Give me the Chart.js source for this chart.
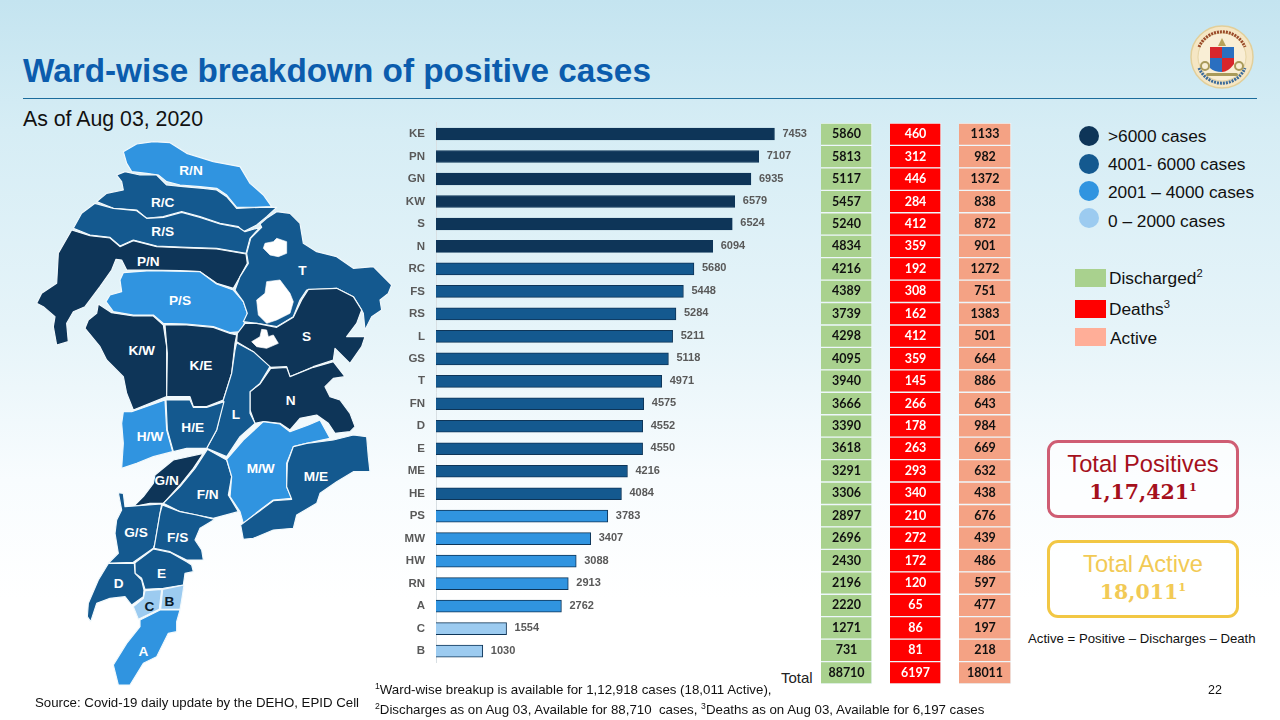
<!DOCTYPE html>
<html><head><meta charset="utf-8">
<script src="https://cdn.jsdelivr.net/npm/chart.js@4"></script>
<style>
html,body{margin:0;padding:0;width:1280px;height:720px;overflow:hidden;font-family:"Liberation Sans",Arial,sans-serif;color:#111}
body{background:linear-gradient(180deg,#c4e4f0 0,#d6edf5 130px,#e6f4f9 330px,#f8fcfe 480px,#fff 600px);position:relative}
.t{position:absolute;white-space:nowrap}
canvas{position:absolute}
svg{position:absolute;left:0;top:0}
sup{font-size:65%;line-height:0}
.box{position:absolute;box-sizing:border-box;border-radius:11px;border:3px solid;text-align:center;left:1047px;width:192px;height:78px;background:rgba(255,255,255,.6)}
.box .a{font-size:23.7px;line-height:26px;margin-top:8px}
.box .b{font:bold 20.5px "DejaVu Serif",serif;line-height:30px}
.box .b sup{font-size:55%}
.dot{position:absolute;width:20px;height:20px;border-radius:50%;left:1079px}
.sw{position:absolute;width:31px;height:18px;left:1075px}
.lg{font-size:17.3px;line-height:20px}
</style></head><body>
<div class="t" style="left:23px;top:52px;font-size:33.3px;font-weight:bold;color:#0b5cad;line-height:38px" id="title">Ward-wise breakdown of positive cases</div>
<div style="position:absolute;left:23px;top:98px;width:1234px;height:1px;background:#1b6c9c"></div>
<div class="t" style="left:23px;top:107px;font-size:21.3px;line-height:24px">As of Aug 03, 2020</div>

<svg width="1280" height="720" id="map"></svg>
<canvas id="bars" width="442" height="545" style="left:380px;top:120px;width:442px;height:545px"></canvas>
<canvas id="cells" width="202" height="561" style="left:815px;top:123px;width:202px;height:561px"></canvas>

<div class="dot" style="top:126px;background:#0e3558"></div><div class="t lg" style="left:1108px;top:126px">&gt;6000 cases</div>
<div class="dot" style="top:154px;background:#14598f"></div><div class="t lg" style="left:1108px;top:154px">4001- 6000 cases</div>
<div class="dot" style="top:181px;background:#3094e0"></div><div class="t lg" style="left:1108px;top:182px">2001 – 4000 cases</div>
<div class="dot" style="top:208px;background:#9ccbf0"></div><div class="t lg" style="left:1108px;top:211px">0 – 2000 cases</div>

<div class="sw" style="top:269px;background:#a9d18e"></div><div class="t lg" style="left:1109px;top:268px">Discharged<sup>2</sup></div>
<div class="sw" style="top:300px;background:#ff0000"></div><div class="t lg" style="left:1109px;top:299px">Deaths<sup>3</sup></div>
<div class="sw" style="top:328px;background:#ffae98"></div><div class="t lg" style="left:1110px;top:328px">Active</div>

<div class="box" style="top:440px;border-color:#cf5d73;color:#a5101c"><div class="a">Total Positives</div><div class="b">1,17,421<sup>1</sup></div></div>
<div class="box" style="top:540px;border-color:#f2c744;color:#f2ca55"><div class="a">Total Active</div><div class="b">18,011<sup>1</sup></div></div>
<div class="t" style="left:1028px;top:631px;font-size:13.2px;line-height:15px">Active = Positive – Discharges – Death</div>

<div class="t" style="left:781px;top:669px;font-size:15px;line-height:17px;color:#222">Total</div>
<div class="t" style="left:375px;top:682px;font-size:13.3px;line-height:15px"><sup>1</sup>Ward-wise breakup is available for 1,12,918 cases (18,011 Active),</div>
<div class="t" style="left:375px;top:702px;font-size:13.3px;line-height:15px"><sup>2</sup>Discharges as on Aug 03, Available for 88,710&nbsp; cases, <sup>3</sup>Deaths as on Aug 03, Available for 6,197 cases</div>
<div class="t" style="left:35px;top:695px;font-size:13.25px;line-height:15px">Source: Covid-19 daily update by the DEHO, EPID Cell</div>
<div class="t" style="left:1208px;top:683px;font-size:12.5px;line-height:14px">22</div>

<script>
const wards=["KE","PN","GN","KW","S","N","RC","FS","RS","L","GS","T","FN","D","E","ME","HE","PS","MW","HW","RN","A","C","B"];
const positives=[7453,7107,6935,6579,6524,6094,5680,5448,5284,5211,5118,4971,4575,4552,4550,4216,4084,3783,3407,3088,2913,2762,1554,1030];
const discharged=[5860,5813,5117,5457,5240,4834,4216,4389,3739,4298,4095,3940,3666,3390,3618,3291,3306,2897,2696,2430,2196,2220,1271,731,88710];
const deaths=[460,312,446,284,412,359,192,308,162,412,359,145,266,178,263,293,340,210,272,172,120,65,86,81,6197];
const active=[1133,982,1372,838,872,901,1272,751,1383,501,664,886,643,984,669,632,438,676,439,486,597,477,197,218,18011];
const tableRows=[...wards,"Total"];

function band(v){return v>6000?"#0e3558":v>4000?"#14598f":v>2000?"#3094e0":"#9ccbf0";}
const valueOf=w=>positives[wards.indexOf(w)];

const barLabels={id:"barLabels",afterDatasetsDraw(c){
  const g=c.ctx,m=c.getDatasetMeta(0);g.save();
  g.font='bold 11px "Liberation Sans"';g.fillStyle="#595959";g.textBaseline="middle";
  m.data.forEach((b,i)=>g.fillText(positives[i],b.x+8,b.y-0.5));g.restore();}};

new Chart(document.getElementById("bars"),{type:"bar",plugins:[barLabels],
 data:{labels:wards,datasets:[{data:positives,backgroundColor:positives.map(band),borderColor:"#0e3558",borderWidth:1,barThickness:12}]},
 options:{indexAxis:"y",responsive:false,animation:false,layout:{padding:{top:2.8,bottom:2.7}},
  plugins:{legend:{display:false},tooltip:{enabled:false}},
  scales:{
   x:{display:false,min:0,max:8500},
   y:{afterFit(s){s.width=56;s.paddingTop=0;s.paddingBottom=0;},border:{color:"#d8dfe3"},grid:{display:false},
      ticks:{color:"#595959",font:{family:"Liberation Sans",size:11.5,weight:"bold"},padding:3}}}}});

const cellText={id:"cellText",afterDatasetsDraw(c){
  const g=c.ctx;g.save();g.font='bold 12.5px "Lato","Liberation Sans"';g.textAlign="center";g.textBaseline="middle";
  c.data.datasets.forEach((d,k)=>{g.fillStyle=k==1?"#fff":"#111";
    c.getDatasetMeta(k).data.forEach((b,i)=>{const x=(c.scales.x.getPixelForValue(d.data[i][0])+c.scales.x.getPixelForValue(d.data[i][1]))/2;
      g.fillText(d.values[i],x,b.y);});});
  g.restore();}};
const columns=[[0,51],[69,120],[138,190]];
const col=(n,vals,color)=>({label:n,values:vals,data:vals.map(()=>columns[["Discharged","Deaths","Active"].indexOf(n)]),backgroundColor:color,borderColor:"#eef7fb",borderWidth:1,barPercentage:1,categoryPercentage:1,grouped:false});
new Chart(document.getElementById("cells"),{type:"bar",plugins:[cellText],
 data:{labels:tableRows,datasets:[col("Discharged",discharged,"#a9d18e"),col("Deaths",deaths,"#ff0000"),col("Active",active,"#f4a284")]},
 options:{indexAxis:"y",responsive:false,animation:false,plugins:{legend:{display:false},tooltip:{enabled:false}},
  scales:{x:{display:false,min:-6,max:196},y:{display:false}}}});

/* ---- map outline (decorative geography, coloured from the ward values) ---- */
const upper={ /* drawn in a 3x grid, origin (0,120) */
 RN:"370,95 410,72 460,65 510,68 560,100 640,125 720,140 750,190 790,225 815,260 770,262 710,262 680,225 650,205 600,200 540,195 500,185 475,165 440,160 395,155 380,130",
 RC:"350,165 375,155 420,165 470,165 500,195 550,200 610,205 650,210 680,230 710,265 780,262 830,262 800,290 770,315 730,335 715,320 660,310 600,290 545,275 490,290 440,295 410,270 340,265 290,245 320,220 370,210 365,185",
 RS:"285,250 340,265 410,272 440,295 490,292 545,277 600,292 660,312 715,322 735,335 780,322 750,355 738,400 650,385 560,382 470,378 400,360 360,378 330,352 270,345 220,325 245,280",
 PN:"215,330 270,347 330,354 360,380 400,362 470,380 560,384 650,387 738,402 742,430 720,470 700,505 650,490 600,455 540,452 440,450 380,450 365,420 348,418 335,450 300,500 255,560 220,575 200,610 205,665 170,675 160,620 165,590 130,560 110,550 125,520 170,490 175,400",
 PS:"370,458 450,452 600,455 650,492 700,510 730,545 742,580 725,635 690,638 640,620 560,612 490,610 460,585 400,585 340,575 318,545 330,525 365,515 360,480",
 KW:"295,552 335,578 400,588 460,588 490,615 500,680 500,830 400,870 380,820 370,770 320,720 300,680 255,625 265,600 290,580",
 KE:"495,615 560,615 640,622 690,640 710,645 705,670 695,760 670,840 620,860 580,860 570,830 500,830 502,700",
 T:"830,275 870,280 900,310 910,370 950,395 1010,410 1060,445 1120,440 1175,495 1165,520 1140,540 1145,570 1115,590 1095,630 1090,580 1085,570 1060,530 1010,505 920,510 900,540 880,590 830,620 770,610 730,605 742,580 730,545 705,510 720,470 745,430 740,400 752,355 785,322 780,312 800,295",
 S:"925,508 1010,505 1060,530 1085,570 1070,610 1040,650 1095,650 1085,680 1050,730 1020,700 1005,685 1000,720 940,740 870,770 860,740 810,742 760,695 710,665 712,640 735,610 770,610 830,622 880,592 905,540",
 N:"812,745 860,742 870,770 940,742 1000,725 1035,770 1000,775 975,800 990,830 1020,840 1050,880 1065,920 1050,935 1005,940 985,910 950,885 900,895 870,930 840,910 790,905 765,910 750,870 750,815 780,792",
 L:"710,668 760,695 810,740 780,790 750,815 750,880 765,910 720,950 680,1010 620,985 650,930 670,840 695,760 705,690"};
const lower={ /* drawn in a 3x grid, origin (0,400) */
 HW:"370,35 395,35 495,0 500,90 518,155 460,170 410,190 365,205 370,130 365,70",
 HE:"498,0 570,0 580,22 620,22 672,5 650,90 620,145 560,145 520,155 502,90",
 GN:"610,160 580,205 540,255 490,310 450,310 400,320 430,290 460,250 465,225 520,180",
 FN:"622,148 680,180 695,230 685,285 715,335 640,355 590,345 540,335 490,310 540,260 585,205",
 MW:"680,178 730,120 790,65 840,72 870,95 925,75 960,60 990,115 920,130 880,140 860,190 860,260 875,295 820,300 780,330 730,370 720,335 690,290 695,230",
 ME:"880,140 920,130 1000,120 1060,105 1100,110 1105,170 1110,215 1060,215 1010,245 960,280 950,310 890,345 880,385 820,390 760,415 730,418 722,375 780,332 820,302 875,298 860,260 862,190",
 GS:"355,278 370,280 375,320 485,312 465,430 460,445 400,487 325,490 355,460 345,400 350,360 365,330",
 FS:"487,315 540,335 590,345 645,358 600,385 585,420 605,450 610,480 560,480 510,455 462,445 480,340",
 E:"460,447 510,457 560,485 575,495 580,515 555,520 550,555 490,565 435,568 425,535 405,520 405,488",
 D:"325,490 403,490 405,520 425,540 432,570 430,590 395,615 375,590 330,595 290,610 272,665 262,650 265,610 295,540",
 C:"435,572 485,568 478,628 415,658 400,620 430,595",
 B:"488,568 552,555 545,600 540,628 482,628",
 A:"420,660 480,630 540,630 530,665 530,695 505,700 490,730 470,770 430,790 390,855 355,855 340,795 380,730 420,680"};
const holes=["795,370 820,365 830,355 860,365 860,400 835,410 810,405 790,385","800,485 840,480 870,520 880,545 870,580 830,600 800,610 775,585 770,540 795,520","755,665 780,650 785,628 800,630 805,650 820,645 835,670 800,685 770,680"];
const upperNames=[["R/N",573,150],["R/C",488,248],["R/S",488,335],["P/N",445,423],["P/S",540,540],["T",907,450],["K/W",425,690],["K/E",603,735],["S",920,650],["N",872,840],["L",708,882]];
const lowerNames=[["H/W",450,110],["H/E",578,83],["G/N",500,240],["F/N",623,283],["M/W",782,205],["M/E",948,228],["G/S",408,397],["F/S",533,412],["D",356,550],["E",485,521],["C",448,618],["B",508,605],["A",430,753]];
const shape=(set,tr,names,extra)=>{let h=`<g transform="${tr} scale(0.33333)">`;
  for(const k in set)h+=`<polygon points="${set[k]}" fill="${band(valueOf(k))}" stroke="#f2f9fc" stroke-width="3.5" stroke-linejoin="round"/>`;
  (extra||[]).forEach(p=>h+=`<polygon points="${p}" fill="#fff" stroke="#fff" stroke-width="2"/>`);
  names.forEach(([n,x,y])=>{const dark=n=="C"||n=="B";h+=`<text x="${x}" y="${y+14}" text-anchor="middle" font-family="Liberation Sans" font-weight="bold" font-size="41" fill="${dark?"#0a1a2a":"#fff"}">${n}</text>`;});
  return h+"</g>";};
const logo=`<g><circle cx="1222" cy="57" r="31" fill="#f5e6c4" stroke="#e2cf9a" stroke-width="1.5"/>
<circle cx="1222" cy="57" r="24" fill="#f9eed5" stroke="#d9c48a" stroke-width="0.6"/>
<path d="M1199 47 A25 25 0 0 1 1245 47" fill="none" stroke="#9a4a2a" stroke-width="3" stroke-dasharray="2 1"/>
<path d="M1199 68 A25 25 0 0 0 1245 68" fill="none" stroke="#3a6a9a" stroke-width="3" stroke-dasharray="2 1"/>
<circle cx="1205" cy="66" r="4" fill="none" stroke="#a99a5a" stroke-width="2"/><circle cx="1239" cy="66" r="4" fill="none" stroke="#a99a5a" stroke-width="2"/>
<path d="M1222 38 l4 8 h-8z" fill="#b8a25a"/>
<rect x="1210" y="47" width="12" height="11" fill="#d8262c"/><rect x="1222" y="47" width="12" height="11" fill="#2a6fc0"/>
<rect x="1210" y="58" width="12" height="10" fill="#2a6fc0"/><path d="M1222 58h12v6q-6 8-12 8z" fill="#d8262c"/><path d="M1210 68h12v4q-8 0-12-4z" fill="#2a6fc0"/>
<rect x="1206" y="73" width="32" height="3" rx="1.5" fill="#a99a5a"/></g>`;
document.getElementById("map").innerHTML=logo+shape(upper,"translate(0,120)",upperNames,holes)+shape(lower,"translate(0,400)",lowerNames);
</script>
</body></html>
